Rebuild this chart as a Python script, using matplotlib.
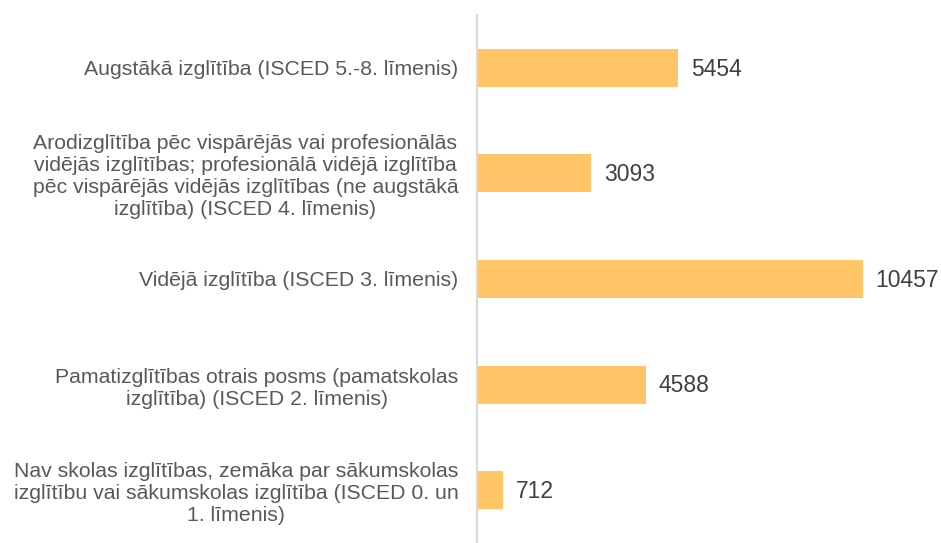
import matplotlib.pyplot as plt
import numpy as np

plt.rcParams['font.family'] = ['Liberation Sans', 'DejaVu Sans']

categories = [
    'Augstākā izglītība (ISCED 5.-8. līmenis)',
    'Arodizglītība pēc vispārējās vai profesionālās\n'
    'vidējās izglītības; profesionālā vidējā izglītība\n'
    'pēc vispārējās vidējās izglītības (ne augstākā\n'
    'izglītība) (ISCED 4. līmenis)',
    'Vidējā izglītība (ISCED 3. līmenis)',
    'Pamatizglītības otrais posms (pamatskolas\n'
    'izglītība) (ISCED 2. līmenis)',
    'Nav skolas izglītības, zemāka par sākumskolas\n'
    'izglītību vai sākumskolas izglītība (ISCED 0. un\n'
    '1. līmenis)',
]
values = [5454, 3093, 10457, 4588, 712]

fig = plt.figure(figsize=(9.41, 5.43), dpi=100)
ax = fig.add_axes([477 / 941, 0.0, 1 - 477 / 941, 1 - 15 / 543])

y = np.arange(len(values))
bars = ax.barh(y, values, height=0.36, color='#FFC566')
ax.set_ylim(len(values) - 0.5, -0.5)
ax.set_xlim(0, 12570)

for b, v in zip(bars, values):
    ax.annotate(str(v), (b.get_width(), b.get_y() + b.get_height() / 2),
                xytext=(9, -1), textcoords='offset points',
                va='center', ha='left', fontsize=16.5, color='#404040')

ax.set_yticks(y)
ax.set_yticklabels(categories, fontsize=15.3, color='#595959',
                   multialignment='center', linespacing=1.2)
ax.tick_params(axis='y', length=0, pad=13.5)
ax.set_xticks([])

for s in ['top', 'right', 'bottom']:
    ax.spines[s].set_visible(False)
ax.spines['left'].set_color('#D9D9D9')
ax.spines['left'].set_linewidth(1.5)

fig.savefig('out.png', dpi=100)
